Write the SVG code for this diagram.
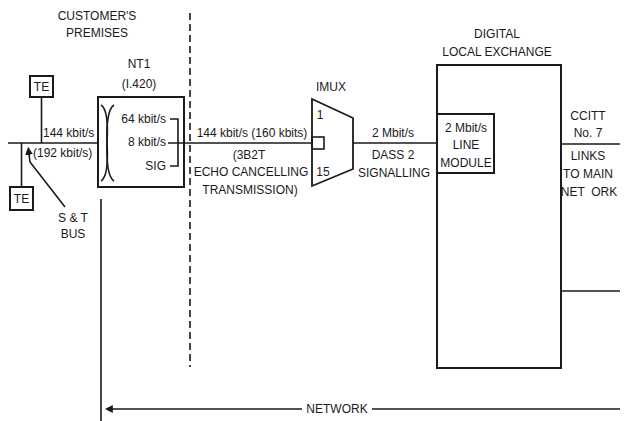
<svg xmlns="http://www.w3.org/2000/svg" width="624" height="421" viewBox="0 0 624 421">
<style>
text{font-family:"Liberation Sans",Arial,sans-serif;font-size:12px;fill:#1a1a1a}
.m{text-anchor:middle}
.e{text-anchor:end}
.ln{stroke:#1a1a1a;stroke-width:1.6;fill:none}
.bx{stroke:#1a1a1a;stroke-width:2;fill:#fff}
.dash{stroke:#1a1a1a;stroke-width:1.6;stroke-dasharray:7 4;fill:none}
</style>
<defs>
<marker id="ah" viewBox="0 0 10 10" refX="1" refY="5" markerWidth="8" markerHeight="8" orient="auto-start-reverse" markerUnits="userSpaceOnUse">
<path d="M0,0 L10,5 L0,10 z" fill="#1a1a1a"/>
</marker>
</defs>

<g id="labels">
<text class="m" x="97" y="20">CUSTOMER'S</text>
<text class="m" x="97" y="37">PREMISES</text>
<text class="m" x="73" y="222">S &amp; T</text>
<text class="m" x="73" y="238">BUS</text>
<text x="43" y="137">144 kbit/s</text>
<text x="33" y="157">(192 kbit/s)</text>
<text class="m" x="252" y="137">144 kbit/s (160 kbits)</text>
<text class="m" x="249" y="159">(3B2T</text>
<text class="m" x="251" y="176">ECHO CANCELLING</text>
<text class="m" x="250" y="194">TRANSMISSION)</text>
<text class="m" x="393" y="137">2 Mbit/s</text>
<text class="m" x="393" y="159">DASS 2</text>
<text class="m" x="394" y="177">SIGNALLING</text>
<text class="m" x="588" y="120">CCITT</text>
<text class="m" x="588" y="137">No. 7</text>
<text class="m" x="588" y="160">LINKS</text>
<text class="m" x="588" y="178">TO MAIN</text>
<text class="m" x="589" y="196" xml:space="preserve">NET  ORK</text>
</g>

<g id="divider">
<line class="dash" x1="190" y1="13" x2="190" y2="367"/>
</g>

<g id="te1">
<rect class="bx" x="30" y="76" width="23" height="21"/>
<text class="m" x="41.5" y="91">TE</text>
</g>

<g id="te2">
<rect class="bx" x="10" y="187" width="23" height="23"/>
<text class="m" x="21.5" y="203">TE</text>
</g>

<g id="nt1">
<text class="m" x="139" y="68">NT1</text>
<text class="m" x="139" y="88">(I.420)</text>
<rect class="bx" x="98" y="97" width="86" height="90"/>
<path class="ln" d="M101,105 Q109,110 107,143 Q109,176 101,181"/>
<path class="ln" d="M114,105 Q106,110 107,143 Q106,176 114,181"/>
<text class="e" x="166" y="123">64 kbit/s</text>
<text class="e" x="166" y="146">8 kbit/s</text>
<text class="e" x="166" y="170">SIG</text>
<path class="ln" d="M170,119 H178 V166 H170"/>
</g>

<g id="imux">
<text class="m" x="331" y="91">IMUX</text>
<path class="ln" style="stroke-width:1.8" d="M312,99 L353,118 L353,169 L312,186 Z"/>
<rect class="ln" x="312" y="137" width="12" height="12"/>
<text class="m" x="320" y="119">1</text>
<text class="m" x="323" y="176">15</text>
</g>

<g id="exchange">
<text class="m" x="497" y="38">DIGITAL</text>
<text class="m" x="497" y="56">LOCAL EXCHANGE</text>
<rect class="bx" x="437" y="65" width="124" height="303"/>
</g>

<g id="line-module">
<rect class="bx" x="437" y="114" width="57" height="59"/>
<text class="m" x="466" y="132">2 Mbit/s</text>
<text class="m" x="466" y="149">LINE</text>
<text class="m" x="466" y="167">MODULE</text>
</g>

<g id="connectors">
<line class="ln" x1="8" y1="143" x2="98" y2="143"/>
<line class="ln" x1="41.5" y1="97" x2="41.5" y2="143"/>
<line class="ln" x1="21.5" y1="143" x2="21.5" y2="187"/>
<polyline class="ln" points="29,154 30,162 65,207" marker-start="url(#ah)"/>
<line class="ln" x1="168" y1="143" x2="312" y2="143"/>
<line class="ln" x1="353" y1="143" x2="437" y2="143"/>
<line class="ln" x1="561" y1="144" x2="620" y2="144"/>
<line class="ln" x1="561" y1="291" x2="620" y2="291"/>
<line class="ln" x1="101" y1="199" x2="101" y2="421"/>
<line class="ln" x1="302" y1="409" x2="112" y2="409" marker-end="url(#ah)"/>
<line class="ln" x1="372" y1="409" x2="620" y2="409"/>
<text class="m" x="337" y="413">NETWORK</text>
</g>
</svg>
